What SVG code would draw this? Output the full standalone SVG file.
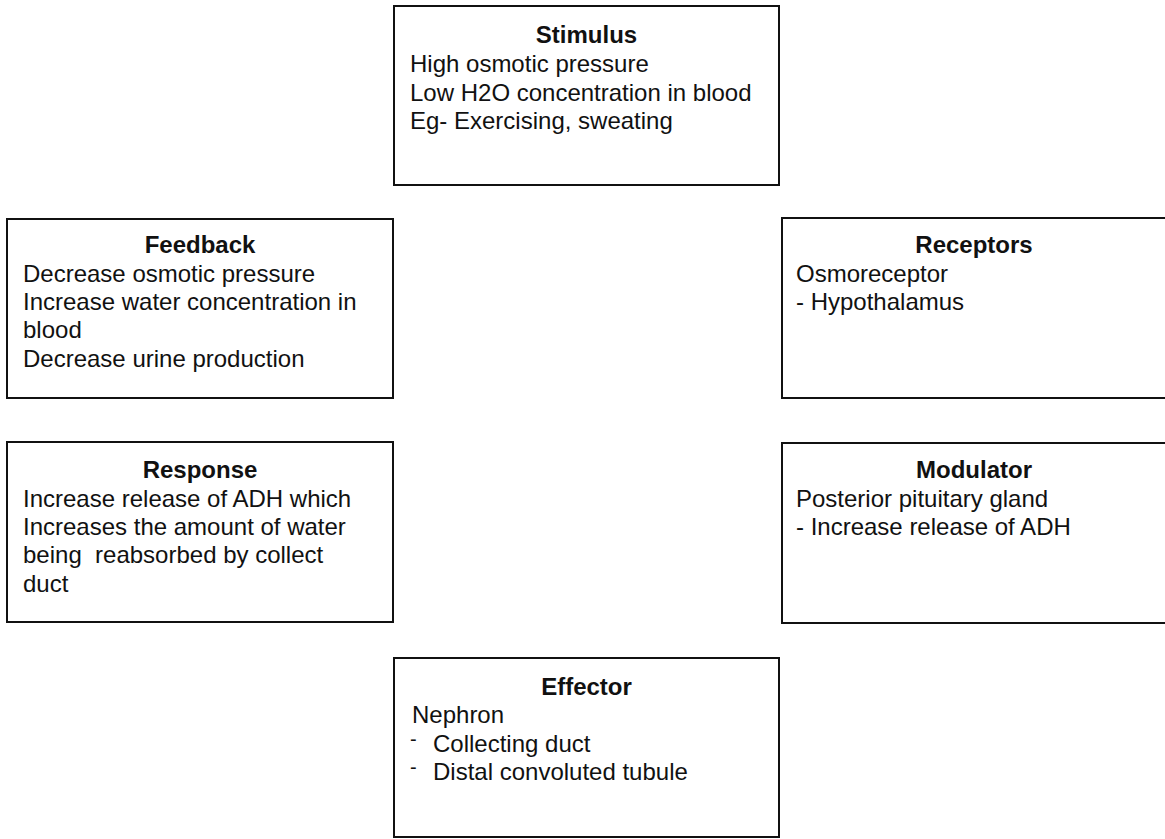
<svg xmlns="http://www.w3.org/2000/svg" width="1165" height="839" viewBox="0 0 1165 839">
  <style>
    .box { fill: #ffffff; stroke: #111111; stroke-width: 2; }
    text { font-family: "Liberation Sans", Arial, Helvetica, sans-serif; font-size: 24px; fill: #111111; white-space: pre; }
    .title { font-weight: bold; text-anchor: middle; }
    .bullet { font-size: 20px; }
  </style>
  <rect width="1165" height="839" fill="#ffffff"/>

  <!-- Homeostasis loop: osmoregulation by ADH -->
  <g id="stimulus">
    <rect class="box" x="394" y="6" width="385" height="179"/>
    <text class="title" x="586.5" y="43">Stimulus</text>
    <text x="410" y="72">High osmotic pressure</text>
    <text x="410" y="100.5">Low H2O concentration in blood</text>
    <text x="410" y="129">Eg- Exercising, sweating</text>
  </g>

  <g id="receptors">
    <rect class="box" x="782" y="218" width="385" height="180"/>
    <text class="title" x="974" y="253">Receptors</text>
    <text x="796" y="282">Osmoreceptor</text>
    <text x="796" y="310">- Hypothalamus</text>
  </g>

  <g id="modulator">
    <rect class="box" x="782" y="443" width="385" height="180"/>
    <text class="title" x="974" y="478">Modulator</text>
    <text x="796" y="507">Posterior pituitary gland</text>
    <text x="796" y="535">- Increase release of ADH</text>
  </g>

  <g id="effector">
    <rect class="box" x="394" y="658" width="385" height="179"/>
    <text class="title" x="586.5" y="695">Effector</text>
    <text x="412" y="723">Nephron</text>
    <!-- raised list bullets -->
    <text x="410" y="752"><tspan class="bullet" dy="-6">-</tspan><tspan x="433" dy="6">Collecting duct</tspan></text>
    <text x="410" y="780"><tspan class="bullet" dy="-6">-</tspan><tspan x="433" dy="6">Distal convoluted tubule</tspan></text>
  </g>

  <g id="response">
    <rect class="box" x="7" y="442" width="386" height="180"/>
    <text class="title" x="200" y="478">Response</text>
    <text x="23" y="507">Increase release of ADH which</text>
    <text x="23" y="535">Increases the amount of water</text>
    <text x="23" y="563">being  reabsorbed by collect</text>
    <text x="23" y="592">duct</text>
  </g>

  <g id="feedback">
    <rect class="box" x="7" y="219" width="386" height="179"/>
    <text class="title" x="200" y="253">Feedback</text>
    <text x="23" y="282">Decrease osmotic pressure</text>
    <text x="23" y="310">Increase water concentration in</text>
    <text x="23" y="338">blood</text>
    <text x="23" y="367">Decrease urine production</text>
  </g>

  <g id="connectors"/>
</svg>
